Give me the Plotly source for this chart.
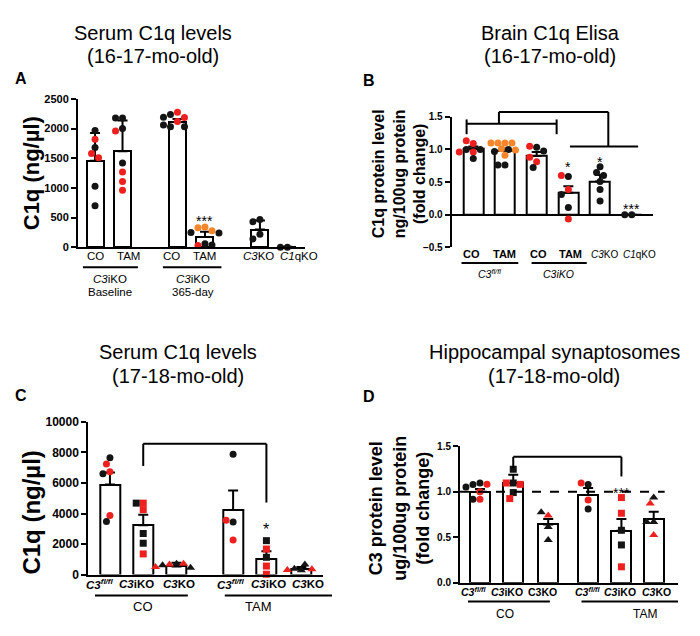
import plotly.graph_objects as go

W, H = 700, 636
FONT = "Liberation Sans, Arial, sans-serif"
RED = "#ee1f1f"
ORG = "#f5862a"
BLK = "#141414"
CMAP = {"k": BLK, "r": RED, "o": ORG}

# ---------------- data ----------------
# Panel A: Serum C1q (16-17-mo-old)
A_pos = [0, 1, 3, 4, 6, 7]
A_labels = ["CO", "TAM", "CO", "TAM", "<i>C3</i>KO", "<i>C1</i>qKO"]
A_mean = [1460, 1620, 2110, 175, 300, 10]
A_sem = [465, 515, 50, 85, 150, 0]
A_pts = [
    [1970, 1680, 1820, 1580, 1510, 1030, 700],
    [2180, 2180, 2000, 1960, 1420, 1270, 1110, 960],
    [2275, 2236, 2186, 2120, 2190, 2030, 2030, 2060],
    [340, 330, 280, 250, 240, 60, 30, 40],
    [470, 430, 220, 140],
    [0, 0],
]
A_col = ["kkrrrkk", "kkkrkrrr", "rkrrkkkk", "oookkkrk", "kkkk", "kk"]
A_sym = ["circle"] * 6

# Panel B: Brain C1q Elisa
B_pos = [0, 1, 2, 3, 4, 5]
B_labels = ["CO", "TAM", "CO", "TAM", "<i>C3</i>KO", "<i>C1</i>qKO"]
B_mean = [1.01, 0.98, 0.90, 0.335, 0.51, 0.0]
B_sem = [0.035, 0.035, 0.06, 0.10, 0.10, 0.0]
B_pts = [
    [1.09, 1.135, 0.96, 1.0, 1.0, 0.96, 0.86],
    [1.10, 1.10, 1.10, 1.10, 1.01, 1.0, 0.97, 0.91, 0.76, 0.76, 0.99],
    [1.035, 1.05, 0.975, 0.81, 0.725, 0.88],
    [0.585, 0.6, 0.385, 0.31, 0.11, -0.065],
    [0.735, 0.645, 0.6, 0.51, 0.385, 0.21],
    [0.0, 0.0],
]
B_col = ["rrrkkrk", "oooookkokko", "krkrkr", "krrkkr", "kkkkkk", "kk"]
B_sym = ["circle"] * 6

# Panel C: Serum C1q (17-18-mo-old)
C_pos = [0, 1, 2, 3.7, 4.7, 5.75]
C_labels = ["<i>C3<sup>fl/fl</sup></i>", "<i>C3</i>iKO", "<i>C3</i>KO"] * 2
C_mean = [5900, 3230, 530, 4230, 1025, 385]
C_sem = [790, 680, 240, 1280, 495, 105]
C_pts = [
    [7650, 7245, 6730, 6600, 3870, 3480],
    [4680, 4680, 4250, 2690, 2050, 1350],
    [700, 650, 700, 600, 450, 500],
    [7890, 3440, 3550, 2270],
    [2220, 1670, 1130, 555, 20],
    [280, 385, 660, 350, 300],
]
C_col = ["krrkrk", "rkrkkr", "krrkkr", "kkrr", "krkrr", "kkkrr"]
C_sym = ["circle", "square", "triangle-up", "circle", "square", "triangle-up"]

# Panel D: Hippocampal synaptosomes
D_pos = [0, 1, 2.05, 3.25, 4.25, 5.22]
D_labels = ["<i>C3<sup>fl/fl</sup></i>", "<i>C3</i>iKO", "C3KO",
            "<i>C3<sup>fl/fl</sup></i>", "<i>C3</i>iKO", "<i>C3</i>KO"]
D_mean = [1.0, 1.095, 0.64, 0.963, 0.57, 0.70]
D_sem = [0.03, 0.09, 0.06, 0.077, 0.13, 0.08]
D_pts = [
    [1.096, 1.078, 1.08, 1.05, 1.0, 0.917, 0.917],
    [1.246, 1.095, 1.095, 1.08, 0.99, 0.924],
    [0.737, 0.773, 0.612, 0.469],
    [1.078, 1.096, 0.909, 0.81],
    [0.935, 0.763, 0.576, 0.415, 0.175],
    [0.935, 0.87, 0.666, 0.666, 0.523],
]
D_col = ["kkrkrrk", "kkrrkr", "rkkk", "krrk", "rrkkr", "krkkr"]
D_sym = ["circle", "square", "triangle-up", "circle", "square", "triangle-up"]

# ---------------- geometry (pixels) ----------------
P = {
    "A": dict(ax="", box=(78, 305, 94, 245.7), xr=(-0.62, 7.64), yr=(0, 2500),
              tv=[0, 500, 1000, 1500, 2000, 2500], fmt="d", bw=0.62, tf=11),
    "B": dict(ax="2", box=(451.7, 653, 112.3, 245.7), xr=(-0.68, 5.67), yr=(-0.5, 1.5),
              tv=[-0.5, 0, 0.5, 1.0, 1.5], fmt=".1f", bw=0.63, tf=10),
    "C": dict(ax="3", box=(88.3, 323, 424.3, 580.3), xr=(-0.65, 6.4), yr=(0, 10000),
              tv=[0, 2000, 4000, 6000, 8000, 10000], fmt="d", bw=0.6, tf=12),
    "D": dict(ax="4", box=(460, 678, 449, 588.7), xr=(-0.6, 5.95), yr=(0, 1.5),
              tv=[0, 0.5, 1.0, 1.5], fmt=".1f", bw=0.6, tf=10),
}
DATA = {
    "A": (A_pos, A_mean, A_sem, A_pts, A_col, A_sym),
    "B": (B_pos, B_mean, B_sem, B_pts, B_col, B_sym),
    "C": (C_pos, C_mean, C_sem, C_pts, C_col, C_sym),
    "D": (D_pos, D_mean, D_sem, D_pts, D_col, D_sym),
}


def scales(k):
    x0, x1, y0, y1 = P[k]["box"]
    xr, yr = P[k]["xr"], P[k]["yr"]
    return (x1 - x0) / (xr[1] - xr[0]), (y1 - y0) / (yr[1] - yr[0])


def px(k, x, y):
    x0, x1, y0, y1 = P[k]["box"]
    xr, yr = P[k]["xr"], P[k]["yr"]
    return (x0 + (x - xr[0]) / (xr[1] - xr[0]) * (x1 - x0),
            y1 - (y - yr[0]) / (yr[1] - yr[0]) * (y1 - y0))


def paper(k, x, y):
    a, b = px(k, x, y)
    return a / W, 1 - b / H


def swarm(vals, sx, sy, d=7.0):
    placed, offs = [], []
    cands = [0.0] + [s * i * d * 0.5 for i in range(1, 10) for s in (-1, 1)]
    for v in vals:
        yy = v * sy
        for c in cands:
            if all((c - a) ** 2 + (yy - b) ** 2 >= (d * 0.95) ** 2 for a, b in placed):
                break
        placed.append((c, yy))
        offs.append(c / sx)
    return offs


fig = go.Figure()
layout = {}
for k, cfg in P.items():
    pos, mean, sem, pts, col, sym = DATA[k]
    xa, ya = "x" + cfg["ax"], "y" + cfg["ax"]
    sx, sy = scales(k)
    fig.add_trace(go.Bar(
        x=pos, y=mean, width=cfg["bw"], xaxis=xa, yaxis=ya,
        marker=dict(color="white", line=dict(color="black", width=2)),
        error_y=dict(type="data", array=sem, arrayminus=[0] * len(sem), symmetric=False,
                     color="black", thickness=2, width=5),
        showlegend=False, hoverinfo="skip"))
    for i, vals in enumerate(pts):
        offs = swarm(vals, sx, sy)
        fig.add_trace(go.Scatter(
            x=[pos[i] + o for o in offs], y=vals, mode="markers", xaxis=xa, yaxis=ya,
            cliponaxis=False, showlegend=False,
            marker=dict(symbol=sym[i], size=8 if sym[i] == "triangle-up" else 7,
                        color=[CMAP[c] for c in col[i]], line=dict(width=0))))
    x0, x1, y0, y1 = cfg["box"]
    layout["xaxis" + cfg["ax"]] = dict(
        domain=[x0 / W, x1 / W], range=list(cfg["xr"]), anchor=ya,
        showline=(k != "B"), linecolor="black", linewidth=2, showticklabels=False,
        ticks="", showgrid=False, zeroline=False, fixedrange=True)
    layout["yaxis" + cfg["ax"]] = dict(
        domain=[1 - y1 / H, 1 - y0 / H], range=list(cfg["yr"]), anchor=xa,
        showline=True, linecolor="black", linewidth=2, ticks="outside", ticklen=5,
        tickwidth=2, tickcolor="black", tickvals=cfg["tv"], tickformat=cfg["fmt"],
        tickfont=dict(family=FONT, size=cfg["tf"], color="black", weight="bold"),
        showgrid=False, zeroline=(k == "B"), zerolinecolor="black", zerolinewidth=2,
        fixedrange=True)

shapes, ann = [], []


def hline(k, xa, xb, y, dash=None):
    p0 = paper(k, xa, y)
    p1 = paper(k, xb, y)
    shapes.append(dict(type="line", xref="paper", yref="paper", x0=p0[0], x1=p1[0],
                       y0=p0[1], y1=p1[1], line=dict(color="black", width=2, dash=dash)))


def vline(k, x, ya, yb):
    p0 = paper(k, x, ya)
    p1 = paper(k, x, yb)
    shapes.append(dict(type="line", xref="paper", yref="paper", x0=p0[0], x1=p1[0],
                       y0=p0[1], y1=p1[1], line=dict(color="black", width=2)))


def uline(k, xa, xb, ypx):
    a = px(k, xa, 0)[0] / W
    b = px(k, xb, 0)[0] / W
    shapes.append(dict(type="line", xref="paper", yref="paper", x0=a, x1=b,
                       y0=1 - ypx / H, y1=1 - ypx / H, line=dict(color="black", width=2)))


def ptext(xp, ypx, t, size=17, bold=False, angle=0):
    ann.append(dict(xref="paper", yref="paper", x=xp / W, y=1 - ypx / H, text=t,
                    showarrow=False, xanchor="center", yanchor="middle", textangle=angle,
                    font=dict(family=FONT, size=size, color="black",
                              weight="bold" if bold else "normal")))


def text(k, x, ypx, t, size=12, bold=False):
    ptext(px(k, x, 0)[0], ypx, t, size, bold)


def star(k, x, y, t, size=14):
    a, b = px(k, x, y)
    ptext(a, b + 4, t, size=size)


# Titles and panel letters
for xc, y1, y2, l1, l2 in [
        (153, 27, 50, "Serum C1q levels", "(16-17-mo-old)"),
        (550, 27, 50, "Brain C1q Elisa", "(16-17-mo-old)"),
        (178, 353, 377, "Serum C1q levels", "(17-18-mo-old)"),
        (554, 353, 377, "Hippocampal synaptosomes", "(17-18-mo-old)")]:
    ptext(xc, y1, l1, 20)
    ptext(xc, y2, l2, 20)
ptext(21, 73, "A", 16, True)
ptext(369, 75, "B", 16, True)
ptext(21, 397, "C", 16, True)
ptext(369, 398, "D", 16, True)

# Y titles
ptext(31, 170, "C1q (ng/µl)", 22, True, -90)
ptext(399, 170, "C1q protein level<br>ng/100ug protein<br>(fold change)", 16, True, -90)
ptext(32, 517, "C1q (ng/µl)", 24, True, -90)
ptext(400, 513, "C3 protein level<br>ug/100ug protein<br>(fold change)", 18, True, -90)

# Panel A labels
for x, t in zip([0, 1.22, 2.79, 4.0, 5.95, 7.42], A_labels):
    text("A", x, 255, t, 11.5)
uline("A", -0.44, 1.56, 266)
uline("A", 2.47, 4.6, 266)
text("A", 0.55, 278, "<i>C3</i>iKO", 11.5)
text("A", 3.55, 278, "<i>C3</i>iKO", 11.5)
text("A", 0.55, 291, "Baseline", 11.5)
text("A", 3.55, 291, "365-day", 11.5)
star("A", 4, 506, "***")

# Panel B labels
for x, t, b in zip([-0.05, 1.0, 2.05, 3.07, 4.13, 5.24], B_labels,
                   [True, True, True, True, False, False]):
    text("B", x, 253, t, 11 if b else 10, b)
uline("B", -0.37, 1.42, 261.7)
uline("B", 1.84, 3.58, 261.7)
text("B", 0.5, 273, "<i>C3<sup>fl/fl</sup></i>", 10.5)
text("B", 2.7, 273, "<i>C3iKO</i>", 10.5)
hline("B", -0.21, 2.63, 1.395)
vline("B", -0.21, 1.234, 1.46)
vline("B", 2.63, 1.234, 1.46)
vline("B", 0.81, 1.395, 1.575)
hline("B", 0.81, 4.26, 1.575)
vline("B", 4.26, 1.575, 1.044)
hline("B", 3.05, 5.2, 1.044)
star("B", 3, 0.785, "*")
star("B", 4, 0.87, "*")
star("B", 5, 0.145, "***")

# Panel C labels
for x, t in zip([-0.3, 0.8, 2.07, 3.65, 4.75, 5.95], C_labels):
    text("C", x, 590, t, 11.5, True)
uline("C", -0.45, 2.34, 601.7)
uline("C", 3.45, 6.67, 601.7)
text("C", 1.0, 613.5, "CO", 13)
text("C", 4.45, 613.5, "TAM", 13)
hline("C", 1, 4.7, 8570)
vline("C", 1, 8570, 7116)
vline("C", 4.7, 8570, 4720)
star("C", 4.7, 3230, "*", 16)

# Panel D labels
for x, t in zip([-0.2, 0.8, 1.87, 3.22, 4.2, 5.3], D_labels):
    text("D", x, 598, t, 10.5, True)
uline("D", -0.36, 2.1, 608)
uline("D", 3.05, 5.95, 608)
text("D", 0.75, 620.5, "CO", 12)
text("D", 4.95, 620.5, "TAM", 12)
hline("D", -0.6, 5.55, 1.0, dash="dash")
hline("D", 1, 4.25, 1.382)
vline("D", 1, 1.382, 1.257)
vline("D", 4.25, 1.382, 1.167)
star("D", 4.25, 1.024, "***")

fig.update_layout(
    width=W, height=H, margin=dict(l=0, r=0, t=0, b=0),
    paper_bgcolor="white", plot_bgcolor="white", showlegend=False,
    shapes=shapes, annotations=ann, bargap=0, font=dict(family=FONT),
    **layout)
fig.write_html("out.html")
